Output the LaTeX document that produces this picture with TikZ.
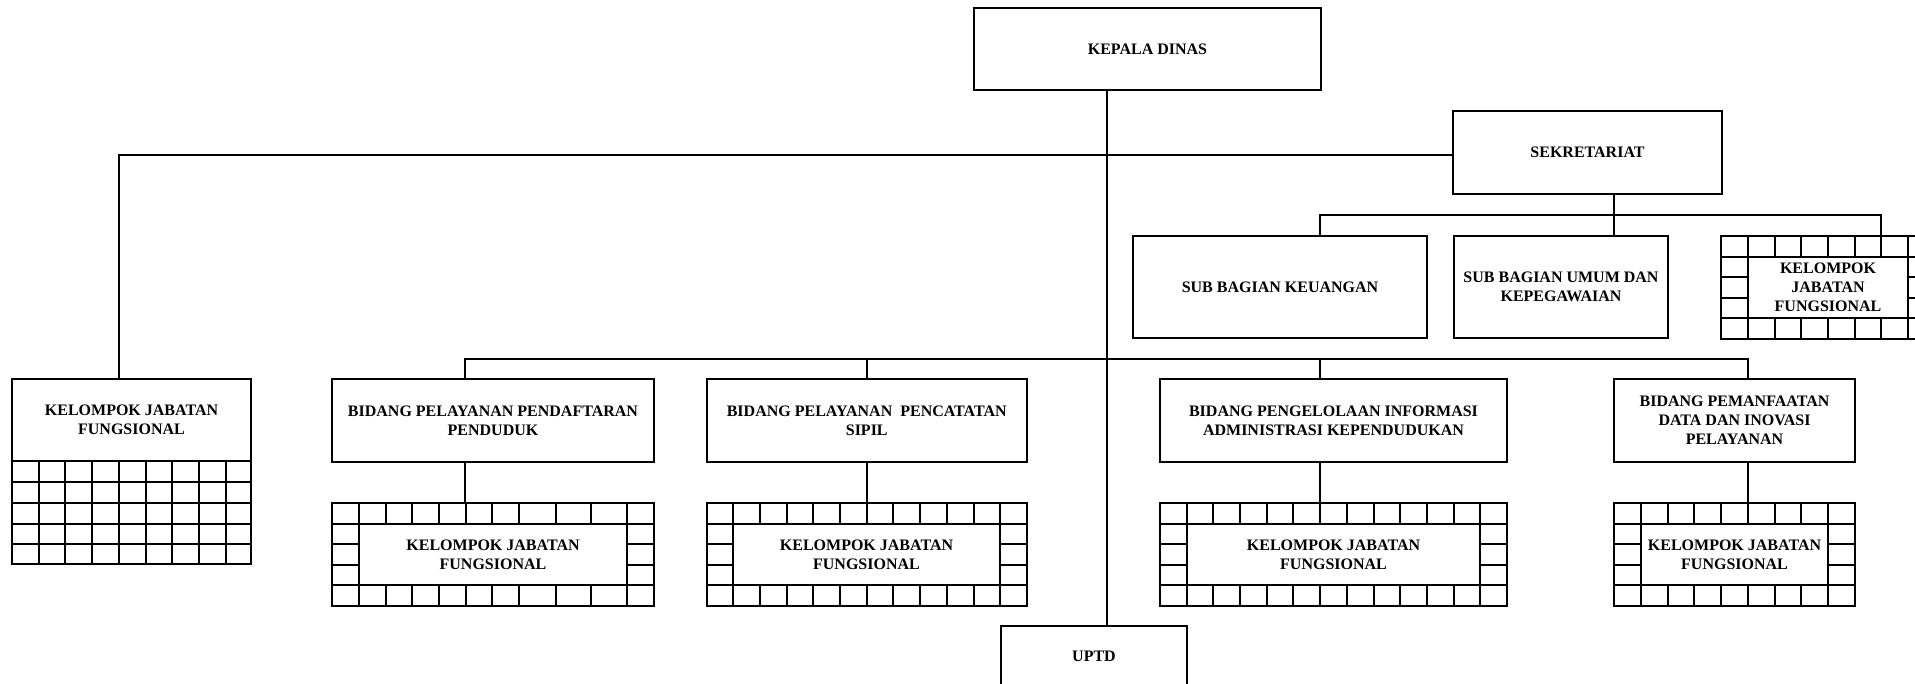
\documentclass[tikz,border=0pt]{standalone}
\usepackage{fontspec}
\setmainfont{Liberation Serif}
\tikzset{
  ln/.style={line width=2pt},
  box/.style={draw, line width=2pt, inner sep=0pt, align=center,
    font=\bfseries\fontsize{16}{19}\selectfont},
}
% grid of KJF with inner text box: #1 name, #2 left, #3 right, #4 first inner col, #5 last inner col,
% #6 interior columns, #7 top, #8 text
\newcommand\kjfgridA[8]{%
  \pgfmathsetmacro\gL{#2}\pgfmathsetmacro\gR{#3}%
  \pgfmathsetmacro\gA{#4}\pgfmathsetmacro\gB{#5}\pgfmathsetmacro\gT{#7}%
  \pgfmathsetmacro\ya{\gT+21}\pgfmathsetmacro\yb{\gT+41}%
  \pgfmathsetmacro\yc{\gT+62}\pgfmathsetmacro\yd{\gT+82}\pgfmathsetmacro\ye{\gT+103}%
  \draw[ln] (\gL,\gT) rectangle (\gR,\ye);
  \draw[ln] (\gL,\ya) -- (\gR,\ya) (\gL,\yd) -- (\gR,\yd);
  \foreach \cx in {#6} {\draw[ln] (\cx,\gT) -- (\cx,\ya) (\cx,\yd) -- (\cx,\ye);}
  \draw[ln] (\gL,\yb) -- (\gA,\yb) (\gL,\yc) -- (\gA,\yc)
            (\gB,\yb) -- (\gR,\yb) (\gB,\yc) -- (\gR,\yc);
  \pgfmathsetmacro\gW{\gB-\gA}\pgfmathsetmacro\gX{(\gA+\gB)/2}\pgfmathsetmacro\gY{(\ya+\yd)/2}%
  \node[box, minimum width=\gW pt, minimum height=61pt] (#1) at (\gX,\gY) {#8};
  \coordinate (#1top) at (\gL,\gT);
}
\begin{document}
\begin{tikzpicture}[x=1pt,y=-1pt]
\useasboundingbox (0,0) rectangle (1915,684);
\clip (0,0) rectangle (1915,684);

% main boxes
\node[box, minimum width=347pt, minimum height=82pt] (kepala) at (1147.5,49) {KEPALA DINAS};
\node[box, minimum width=269pt, minimum height=83pt] (sekr) at (1587.5,152.5) {SEKRETARIAT};
\node[box, minimum width=294pt, minimum height=102pt] (keu) at (1280,287) {SUB BAGIAN KEUANGAN};
\node[box, minimum width=214pt, minimum height=102pt] (umum) at (1561,287) {SUB BAGIAN UMUM DAN\\KEPEGAWAIAN};

\node[box, minimum width=322pt, minimum height=83pt] (bppp) at (493,420.5) {BIDANG PELAYANAN PENDAFTARAN\\PENDUDUK};
\node[box, minimum width=320.5pt, minimum height=83pt] (bpps) at (866.75,420.5) {BIDANG PELAYANAN\ \ PENCATATAN\\SIPIL};
\node[box, minimum width=347pt, minimum height=83pt] (bpiak) at (1333.5,420.5) {BIDANG PENGELOLAAN INFORMASI\\ADMINISTRASI KEPENDUDUKAN};
\node[box, minimum width=241pt, minimum height=83pt] (bpdip) at (1734.5,420.5) {BIDANG PEMANFAATAN\\DATA DAN INOVASI\\PELAYANAN};

\node[box, minimum width=186pt, minimum height=60pt] (uptd) at (1094,656) {UPTD};

% left KJF
\node[box, minimum width=239pt, minimum height=82pt] (kjfL) at (131.5,420) {KELOMPOK JABATAN\\FUNGSIONAL};
\draw[ln] (12,461) rectangle (251,564);
\foreach \ry in {482,503,524,544} {\draw[ln] (12,\ry) -- (251,\ry);}
\foreach \cx in {39,65,92,119,146,172,199,226} {\draw[ln] (\cx,461) -- (\cx,564);}

% grids
\kjfgridA{kjfS}{1721}{1935}{1748}{1908}{1748,1775,1801,1828,1855,1881,1908}{236}{KELOMPOK\\JABATAN\\FUNGSIONAL}
\kjfgridA{kjf1}{332}{654}{359}{627}{359,386,412,439,466,492,519,556,591,627}{503}{KELOMPOK JABATAN\\FUNGSIONAL}
\kjfgridA{kjf2}{706.5}{1027}{733}{1000}{733,760,787,813,840,867,893,920,947,974,1000}{503}{KELOMPOK JABATAN\\FUNGSIONAL}
\kjfgridA{kjf3}{1160}{1507}{1187}{1480}{1187,1213,1240,1267,1293,1320,1347,1374,1400,1427,1454,1480}{503}{KELOMPOK JABATAN\\FUNGSIONAL}
\kjfgridA{kjf4}{1614}{1855}{1641}{1828}{1641,1668,1694,1721,1748,1775,1801,1828}{503}{KELOMPOK JABATAN\\FUNGSIONAL}

% helper coordinates
\coordinate (tx) at (1107,0);
\coordinate (lx) at (119,0);
\coordinate (hy) at (0,155);
\coordinate (sx) at (1614,0);
\coordinate (kx) at (1320,0);
\coordinate (rx) at (1881,0);
\coordinate (sy) at (0,215);
\coordinate (by) at (0,359);
\coordinate (b1x) at (465,0);
\coordinate (b2x) at (867,0);
\coordinate (b3x) at (1320,0);
\coordinate (b4x) at (1748,0);

% connectors
\draw[ln] (tx |- kepala.south) -- (tx |- uptd.north);
\draw[ln] (sekr.west |- hy) -- (lx |- hy) -- (lx |- kjfL.north);
\draw[ln] (sx |- sekr.south) -- (sx |- umum.north);
\draw[ln] (kx |- keu.north) -- (kx |- sy) -- (rx |- sy) -- (rx |- kjfStop);
\draw[ln] (b1x |- bppp.north) -- (b1x |- by) -- (b4x |- by) -- (b4x |- bpdip.north);
\draw[ln] (b2x |- by) -- (b2x |- bpps.north);
\draw[ln] (b3x |- by) -- (b3x |- bpiak.north);
\draw[ln] (b1x |- bppp.south) -- (b1x |- kjf1top);
\draw[ln] (b2x |- bpps.south) -- (b2x |- kjf2top);
\draw[ln] (b3x |- bpiak.south) -- (b3x |- kjf3top);
\draw[ln] (b4x |- bpdip.south) -- (b4x |- kjf4top);
\end{tikzpicture}
\end{document}
